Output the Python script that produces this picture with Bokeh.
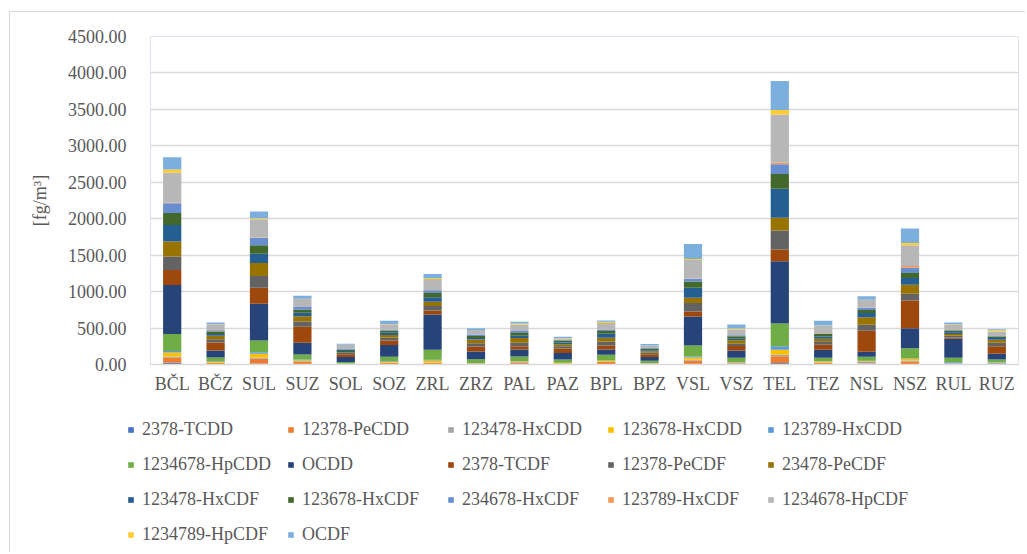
from bokeh.plotting import figure
from bokeh.models import ColumnDataSource, FactorRange, Range1d, NumeralTickFormatter, Legend, LegendItem
from bokeh.layouts import column
from bokeh.embed import file_html
from bokeh.resources import INLINE

categories = ["BČL", "BČZ", "SUL", "SUZ", "SOL", "SOZ", "ZRL", "ZRZ", "PAL", "PAZ",
              "BPL", "BPZ", "VSL", "VSZ", "TEL", "TEZ", "NSL", "NSZ", "RUL", "RUZ"]

tcdd_2378 = [23, 5, 9, 5, 2, 3, 5, 3, 3, 2, 3, 3, 5, 3, 20, 3, 3, 5, 3, 3]
pecdd_12378 = [69, 15, 69, 30, 5, 20, 15, 5, 25, 5, 30, 8, 50, 15, 92, 20, 10, 35, 3, 5]
hxcdd_123478 = [14, 5, 18, 8, 2, 5, 5, 8, 5, 3, 5, 3, 15, 5, 23, 5, 20, 15, 5, 15]
hxcdd_123678 = [60, 10, 50, 15, 3, 8, 30, 3, 8, 10, 12, 4, 25, 5, 69, 12, 10, 25, 3, 5]
hxcdd_123789 = [18, 5, 23, 10, 3, 6, 10, 3, 5, 3, 5, 2, 15, 4, 46, 5, 8, 7, 18, 4]
hpcdd_1234678 = [234, 55, 160, 69, 20, 64, 137, 50, 64, 46, 78, 32, 151, 60, 311, 46, 55, 137, 60, 37]
ocdd = [673, 96, 504, 160, 69, 160, 485, 105, 96, 90, 73, 50, 398, 101, 856, 110, 69, 275, 261, 78]
tcdf_2378 = [206, 110, 220, 220, 37, 64, 55, 69, 46, 60, 55, 37, 69, 60, 160, 69, 289, 380, 18, 105]
pecdf_12378 = [183, 46, 160, 73, 18, 37, 60, 46, 46, 32, 55, 23, 115, 32, 261, 50, 82, 92, 23, 46]
pecdf_23478 = [206, 46, 179, 73, 10, 37, 60, 50, 64, 27, 50, 20, 73, 46, 174, 32, 101, 124, 23, 41]
hxcdf_123478 = [229, 27, 128, 46, 15, 32, 60, 23, 32, 23, 55, 15, 137, 23, 398, 32, 60, 92, 27, 23]
hxcdf_123678 = [165, 32, 115, 41, 20, 27, 60, 27, 37, 27, 37, 20, 87, 32, 202, 37, 41, 69, 23, 23]
hxcdf_234678 = [133, 18, 101, 46, 8, 18, 37, 18, 27, 8, 23, 8, 37, 14, 137, 5, 27, 73, 14, 5]
hxcdf_123789 = [5, 2, 5, 3, 2, 2, 2, 2, 3, 2, 3, 2, 3, 2, 18, 2, 2, 23, 2, 2]
hpcdf_1234678 = [412, 78, 252, 101, 55, 69, 151, 60, 87, 23, 87, 32, 252, 78, 664, 105, 110, 284, 69, 60]
hpcdf_1234789 = [46, 2, 14, 3, 2, 3, 14, 2, 14, 2, 14, 2, 14, 14, 60, 2, 2, 32, 2, 18]
ocdf = [169, 23, 92, 41, 15, 46, 55, 23, 23, 18, 18, 20, 206, 55, 397, 64, 46, 197, 23, 14]

series_names = ["2378-TCDD", "12378-PeCDD", "123478-HxCDD", "123678-HxCDD", "123789-HxCDD",
                "1234678-HpCDD", "OCDD", "2378-TCDF", "12378-PeCDF", "23478-PeCDF",
                "123478-HxCDF", "123678-HxCDF", "234678-HxCDF", "123789-HxCDF", "1234678-HpCDF",
                "1234789-HpCDF", "OCDF"]
series_values = [tcdd_2378, pecdd_12378, hxcdd_123478, hxcdd_123678, hxcdd_123789,
                 hpcdd_1234678, ocdd, tcdf_2378, pecdf_12378, pecdf_23478,
                 hxcdf_123478, hxcdf_123678, hxcdf_234678, hxcdf_123789, hpcdf_1234678,
                 hpcdf_1234789, ocdf]
colors = ["#4472C4", "#ED7D31", "#A5A5A5", "#FFC000", "#5B9BD5", "#70AD47",
          "#264478", "#9E480E", "#636363", "#997300", "#255E91", "#43682B",
          "#698ED0", "#F1975A", "#B7B7B7", "#FFCD33", "#7CAFDD"]

keys = ["s%d" % i for i in range(len(series_names))]
data = {"cat": categories}
for k, v in zip(keys, series_values):
    data[k] = v
source = ColumnDataSource(data)

FONT = "Liberation Serif"
TXT = "#595959"

# ---- main chart ----
p = figure(x_range=FactorRange(*categories, range_padding=0), y_range=Range1d(0, 4500),
           width=1025, height=400, output_backend="svg", toolbar_location=None,
           min_border_left=150, min_border_right=7, min_border_top=36, min_border_bottom=36)
p.border_fill_color = None

renderers = p.vbar_stack(keys, x="cat", width=0.42, color=colors, line_color=None, source=source)

p.outline_line_color = "#DCE3F0"
p.outline_line_width = 1
p.xgrid.grid_line_color = None
p.ygrid.grid_line_color = "#D9D9D9"
p.ygrid.grid_line_width = 1.5

p.yaxis.formatter = NumeralTickFormatter(format="0.00")
p.yaxis.ticker = [0, 500, 1000, 1500, 2000, 2500, 3000, 3500, 4000, 4500]
p.yaxis.axis_line_color = None
p.yaxis.major_tick_line_color = None
p.yaxis.minor_tick_line_color = None
p.yaxis.major_label_standoff = 18
p.yaxis.axis_label = "[fg/m³]"
p.yaxis.axis_label_standoff = 15
p.yaxis.axis_label_text_font = FONT
p.yaxis.axis_label_text_font_style = "normal"
p.yaxis.axis_label_text_font_size = "18px"
p.yaxis.axis_label_text_color = TXT

p.xaxis.axis_line_color = "#D9D9D9"
p.xaxis.axis_line_width = 1.5
p.xaxis.major_tick_line_color = None
p.xaxis.minor_tick_line_color = None
p.xaxis.major_tick_out = 0
p.xaxis.major_label_standoff = 9

for ax in (p.xaxis, p.yaxis):
    ax.major_label_text_font = FONT
    ax.major_label_text_font_size = "18px"
    ax.major_label_text_color = TXT

# ---- legend panel (separate figure below the chart) ----
q = figure(x_range=FactorRange(*categories), y_range=Range1d(0, 4500),
           width=1025, height=152, output_backend="svg", toolbar_location=None,
           x_axis_type=None, y_axis_type=None,
           min_border_left=150, min_border_right=7, min_border_top=0, min_border_bottom=0)
q.border_fill_color = None
q.background_fill_color = None
q.outline_line_color = None
q.grid.visible = False
legend_renderers = q.vbar_stack(keys, x="cat", width=0.42, color=colors, line_color=None, source=source)
for r in legend_renderers:
    r.visible = False

items = [LegendItem(label=n, renderers=[r]) for n, r in zip(series_names, legend_renderers)]
legend = Legend(items=items, orientation="horizontal", ncols=5, click_policy="none",
                location=(0, 0), padding=0, margin=0, spacing=0,
                glyph_width=7, glyph_height=7, label_standoff=8,
                label_width=145, label_height=35,
                label_text_font=FONT, label_text_font_size="18px", label_text_color=TXT,
                border_line_color=None, background_fill_alpha=0)
q.add_layout(legend, "center")
q.styles = {"transform": "translateX(-23px)"}

layout = column(p, q, spacing=0)
layout.styles = {"box-shadow": "inset 9px 11px 0 0 #FFFFFF, inset 10px 12px 0 0 #D9D9D9",
                 "background": "#FFFFFF"}

open("out.html", "w").write(file_html(layout, INLINE))
